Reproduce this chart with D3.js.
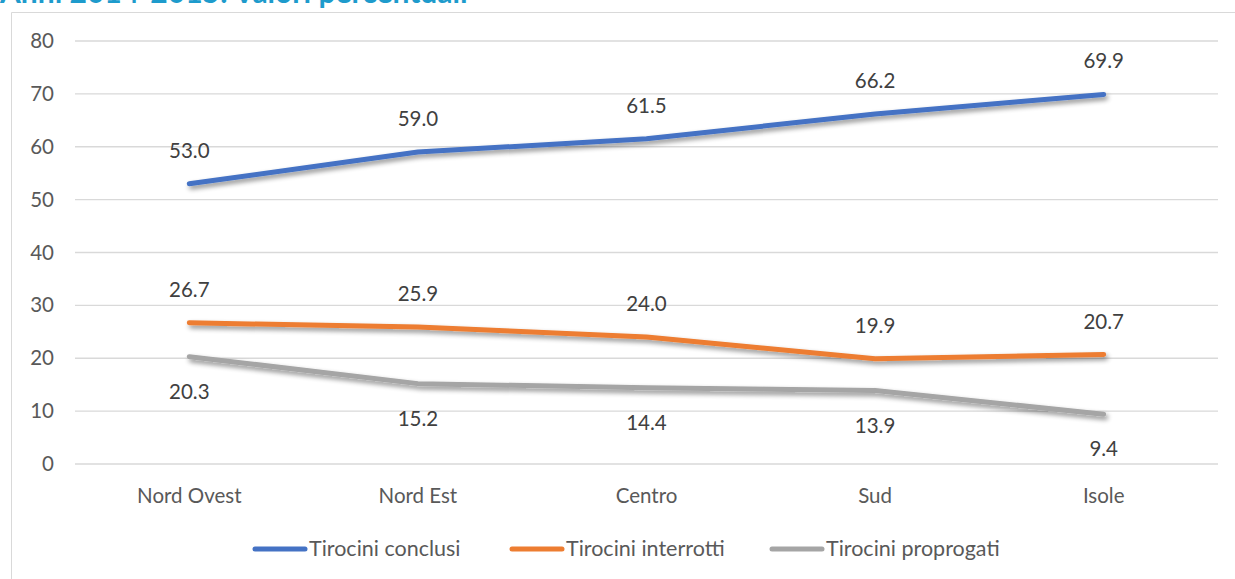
<!DOCTYPE html>
<html>
<head>
<meta charset="utf-8">
<script src="https://cdn.jsdelivr.net/npm/d3@7"></script>
<style>
  body { margin: 0; background: #fff; }
  text { font-family: Lato, "Open Sans", sans-serif; }
</style>
</head>
<body>
<div id="chart"></div>
<script>
// dati
var categorie = ["Nord Ovest", "Nord Est", "Centro", "Sud", "Isole"];
var conclusi = [53.0, 59.0, 61.5, 66.2, 69.9];
var interrotti = [26.7, 25.9, 24.0, 19.9, 20.7];
var prorogati = [20.3, 15.2, 14.4, 13.9, 9.4];
var yTicks = [0, 10, 20, 30, 40, 50, 60, 70, 80];
var nomiSerie = ["Tirocini conclusi", "Tirocini interrotti", "Tirocini proprogati"];

var W = 1235, H = 579;
var margin = {top: 41, right: 17, bottom: 115, left: 75},
    width = W - margin.left - margin.right,
    height = H - margin.top - margin.bottom;

var svg = d3.select("#chart").append("svg")
    .attr("width", W).attr("height", H);

// ombra delle linee
var defs = svg.append("defs");
var f = defs.append("filter").attr("id", "ombra")
    .attr("x", "-5%").attr("y", "-50%").attr("width", "110%").attr("height", "200%");
f.append("feGaussianBlur").attr("in", "SourceAlpha").attr("stdDeviation", 2.5);
f.append("feOffset").attr("dx", 2).attr("dy", 3).attr("result", "off");
f.append("feComponentTransfer").append("feFuncA").attr("type", "linear").attr("slope", 0.45);
var m = f.append("feMerge");
m.append("feMergeNode");
m.append("feMergeNode").attr("in", "SourceGraphic");

// cornice e titolo
svg.append("path")
    .attr("d", "M11.5," + H + "V12.5H" + W)
    .attr("fill", "none").attr("stroke", "#d9d9d9").attr("stroke-width", 1);
svg.append("text")
    .attr("x", 0).attr("y", 3)
    .attr("font-size", 30).attr("font-weight", "bold")
    .attr("fill", "#1e9bcc")
    .text("Anni 2014-2015: Valori percentuali");

var g = svg.append("g")
    .attr("transform", "translate(" + margin.left + "," + margin.top + ")");

var x = d3.scaleBand().domain(categorie).range([0, width]);
var y = d3.scaleLinear().domain([0, 80]).range([height, 0]);

// griglia
g.selectAll(".grid").data(yTicks).enter().append("line")
    .attr("x1", 0).attr("x2", width)
    .attr("y1", function(d) { return y(d); })
    .attr("y2", function(d) { return y(d); })
    .attr("stroke", "#d9d9d9").attr("stroke-width", 1.3);

// asse y
var ay = g.append("g").call(d3.axisLeft(y).tickValues(yTicks).tickSize(0).tickPadding(21));
ay.select(".domain").remove();
ay.selectAll("text").attr("font-size", 20.5).attr("fill", "#595959")
    .style("font-family", "Lato, sans-serif");

// asse x
var ax = g.append("g").attr("transform", "translate(0," + height + ")")
    .call(d3.axisBottom(x).tickSize(0).tickPadding(24));
ax.select(".domain").remove();
ax.selectAll("text").attr("font-size", 20.5).attr("fill", "#595959")
    .style("font-family", "Lato, sans-serif");

var serie = [
  {nome: nomiSerie[0], valori: conclusi, colore: "#4472c4", pos: -1},
  {nome: nomiSerie[1], valori: interrotti, colore: "#ed7d31", pos: -1},
  {nome: nomiSerie[2], valori: prorogati, colore: "#a5a5a5", pos: 1}
];

var linea = d3.line()
    .x(function(d, i) { return x(categorie[i]) + x.bandwidth() / 2; })
    .y(function(d) { return y(d); });

serie.slice().reverse().forEach(function(s) {
  g.append("path")
      .datum(s.valori)
      .attr("d", linea)
      .attr("fill", "none")
      .attr("stroke", s.colore)
      .attr("stroke-width", 5)
      .attr("stroke-linecap", "round")
      .attr("stroke-linejoin", "round")
      .attr("filter", "url(#ombra)");
});

// etichette dei valori
serie.forEach(function(s) {
  g.selectAll(null).data(s.valori).enter().append("text")
      .attr("x", function(d, i) { return x(categorie[i]) + x.bandwidth() / 2; })
      .attr("y", function(d) { return y(d) + (s.pos < 0 ? -26 : 42); })
      .attr("text-anchor", "middle")
      .attr("font-size", 20.5).attr("fill", "#404040")
      .text(function(d) { return d.toFixed(1); });
});

// legenda
var legX = [253, 510, 770];
var leg = svg.append("g");
serie.forEach(function(s, i) {
  leg.append("line")
      .attr("x1", legX[i] + 2).attr("x2", legX[i] + 52)
      .attr("y1", 549).attr("y2", 549)
      .attr("stroke", s.colore).attr("stroke-width", 5).attr("stroke-linecap", "round");
  leg.append("text")
      .attr("x", legX[i] + 56).attr("y", 556)
      .attr("font-size", 21.5).attr("fill", "#595959")
      .text(s.nome);
});
</script>
</body>
</html>
